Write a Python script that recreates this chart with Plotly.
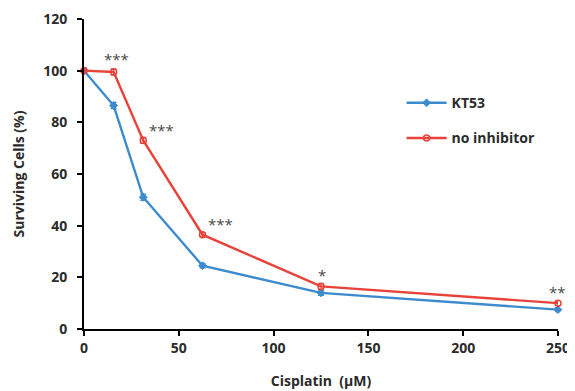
import plotly.graph_objects as go

cisplatin = [0, 15.625, 31.25, 62.5, 125, 250]
kt53 = [100, 86.5, 51, 24.5, 14, 7.5]
kt53_err = [1.0, 1.2, 1.2, 0.8, 1.0, 0.8]
no_inhib = [100, 99.5, 73, 36.5, 16.5, 10]
no_inhib_err = [1.0, 1.2, 1.2, 0.8, 1.2, 0.8]

sig_x = [17, 41, 72, 125.5, 249.5]
sig_y = [104.5, 77.2, 40.5, 21.0, 14.5]
sig_text = ["***", "***", "***", "*", "**"]

x_ticks = [0, 50, 100, 150, 200, 250]
y_ticks = [0, 20, 40, 60, 80, 100, 120]

BLUE = "#3d8bcd"
RED = "#e8433b"
TXT = "#2b2b2b"
FONT = "Open Sans"

fig = go.Figure()
fig.add_trace(go.Scatter(
    x=cisplatin, y=kt53, name="KT53", mode="lines+markers",
    line=dict(color=BLUE, width=2.4),
    marker=dict(symbol="diamond", size=6, color=BLUE, line=dict(color=BLUE, width=1)),
    error_y=dict(type="data", array=kt53_err, color=BLUE, thickness=1.2, width=3),
    legendgroup="a", cliponaxis=False,
))
fig.add_trace(go.Scatter(
    x=cisplatin, y=no_inhib, name="no inhibitor", mode="lines+markers",
    line=dict(color=RED, width=2.4),
    marker=dict(symbol="circle-open", size=6, color=RED, line=dict(color=RED, width=1.5)),
    error_y=dict(type="data", array=no_inhib_err, color=RED, thickness=1.2, width=3),
    legendgroup="b", cliponaxis=False,
))

for x, y, t in zip(sig_x, sig_y, sig_text):
    fig.add_annotation(x=x, y=y, text=t, showarrow=False,
                       font=dict(family=FONT, size=15, color="#4a4a4a"))

fig.update_layout(
    width=575, height=391,
    margin=dict(l=76, r=25, t=11, b=70, autoexpand=False),
    paper_bgcolor="white", plot_bgcolor="white",
    font=dict(family=FONT, size=14, color=TXT),
    showlegend=True,
    legend=dict(x=0.67, y=0.78, xanchor="left", yanchor="top",
                bgcolor="rgba(0,0,0,0)", tracegroupgap=14,
                font=dict(family=FONT, size=14, color=TXT, weight="bold"),
                itemwidth=40),
)
fig.update_xaxes(
    range=[0, 250], tickvals=x_ticks, ticktext=[str(v) for v in x_ticks],
    showline=True, linecolor="black", linewidth=2, mirror=False,
    ticks="outside", ticklen=5, tickwidth=2, tickcolor="black",
    showgrid=False, zeroline=False, ticklabelstandoff=0, automargin=False,
    tickfont=dict(family=FONT, size=14, color=TXT, weight="bold"),
    title=dict(text="Cisplatin  (µM)", standoff=20,
               font=dict(family=FONT, size=14, color=TXT, weight="bold")),
)
fig.update_yaxes(
    range=[0, 120], tickvals=y_ticks, ticktext=[str(v) for v in y_ticks],
    showline=True, linecolor="black", linewidth=2,
    ticks="outside", ticklen=5, tickwidth=2, tickcolor="black",
    showgrid=False, zeroline=False, ticklabelstandoff=7, automargin=False,
    tickfont=dict(family=FONT, size=14, color=TXT, weight="bold"),
    title=dict(text="Surviving Cells (%)", standoff=15,
               font=dict(family=FONT, size=14, color=TXT, weight="bold")),
)

fig.write_html("out.html")
